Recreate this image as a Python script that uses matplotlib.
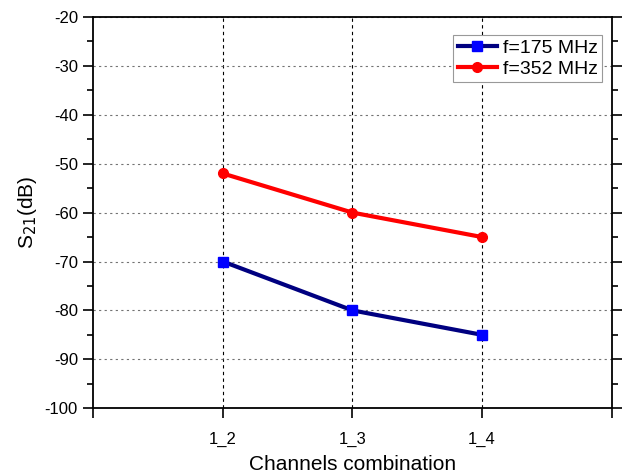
import matplotlib
matplotlib.use("Agg")
import matplotlib.pyplot as plt
from matplotlib.ticker import MultipleLocator

plt.rcParams["font.family"] = ["Liberation Sans", "DejaVu Sans"]
plt.rcParams["axes.unicode_minus"] = False

# data
channels = ["1_2", "1_3", "1_4"]
s21_175 = [-70, -80, -85]
s21_352 = [-52, -60, -65]

x = [1, 2, 3]

fig = plt.figure(figsize=(6.3, 4.73), dpi=100)
ax = fig.add_axes([0.148, 0.137, 0.823, 0.827])

ax.plot(x, s21_175, "-", color="#000080", lw=3, marker="s", ms=7,
        mfc="#0000FF", mec="#0000FF", label="f=175 MHz")
ax.plot(x, s21_352, "-", color="#FF0000", lw=3, marker="o", ms=7,
        mfc="#FF0000", mec="#FF0000", label="f=352 MHz")

ax.set_xlim(0, 4)
ax.set_ylim(-100, -20)
ax.set_xticks([0, 1, 2, 3, 4])
ax.set_xticklabels([""] + channels + [""])
ax.yaxis.set_major_locator(MultipleLocator(10))
ax.yaxis.set_minor_locator(MultipleLocator(5))

# grid: x dashed black, y dashed grey
for xi in x:
    ax.axvline(xi, color="black", lw=0.8, ls=(0, (3, 3)), zorder=0)
ax.yaxis.grid(True, color="0.45", lw=0.8, ls=(0, (2, 3)), zorder=0)

ax.tick_params(axis="both", which="major", direction="out", length=7,
               width=1.2, labelsize=12)
ax.tick_params(axis="x", which="major", pad=10)
ax.tick_params(axis="y", which="major", pad=4)
ax.tick_params(axis="y", which="minor", direction="out", length=4, width=1.2)
ax.tick_params(axis="y", which="both", right=True)
for sp in ax.spines.values():
    sp.set_linewidth(1.3)

ax.set_xlabel("Channels combination", fontsize=15, labelpad=6)
ax.set_ylabel("S$_{21}$(dB)", fontsize=15, labelpad=4)

leg = ax.legend(loc="upper right", fontsize=14, fancybox=False,
                framealpha=1, edgecolor="0.6", borderpad=0.25,
                handlelength=2.0, handletextpad=0.3, labelspacing=0.15,
                borderaxespad=0, bbox_to_anchor=(0.982, 0.955))
leg.get_frame().set_linewidth(0.8)

fig.savefig("out.png", dpi=100)
